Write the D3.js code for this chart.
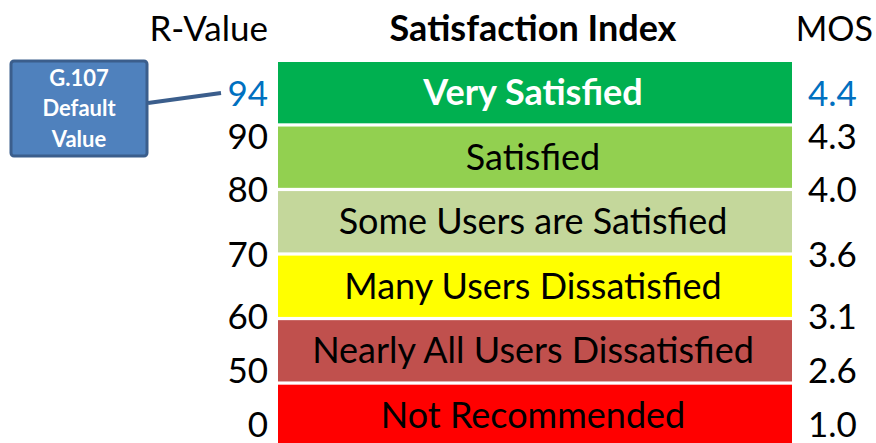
<!DOCTYPE html>
<html>
<head>
<meta charset="utf-8">
<script src="https://cdn.jsdelivr.net/npm/d3@7"></script>
<style>
  body { margin: 0; background: #fff; }
  svg { display: block; font-family: Lato, "Open Sans", sans-serif; }
</style>
</head>
<body>
<svg id="chart" width="876" height="443"></svg>
<script>
// satisfaction bands, best to worst
const categories = ["Very Satisfied", "Satisfied", "Some Users are Satisfied",
  "Many Users Dissatisfied", "Nearly All Users Dissatisfied", "Not Recommended"];
const bandColors = ["#00B050", "#92D050", "#C4D79B", "#FFFF00", "#C0504D", "#FF0000"];

// scale labels on each side
const rValues = ["94", "90", "80", "70", "60", "50", "0"];
const mosValues = ["4.4", "4.3", "4.0", "3.6", "3.1", "2.6", "1.0"];
// where each label sits, in band units from the top
const labelSlots = [0.5, 1.17, 2, 3.03, 4, 4.85, 5.7];

const svg = d3.select("#chart");
const barLeft = 278, barRight = 792, barTop = 62, barBottom = 443;

const y = d3.scaleBand()
  .domain(categories)
  .range([barTop, barBottom + 3])
  .paddingInner(0.05)
  .paddingOuter(0);

const slot = d3.scaleLinear().domain([0, categories.length]).range([barTop, barBottom]);

// headers
const head = svg.append("g").attr("font-size", 35);
head.append("text").attr("x", 268).attr("y", 41).attr("text-anchor", "end").text("R-Value");
head.append("text").attr("x", 533).attr("y", 41).attr("text-anchor", "middle")
  .attr("font-weight", "bold").attr("font-size", 36).text("Satisfaction Index");
head.append("text").attr("x", 873).attr("y", 41).attr("text-anchor", "end")
  .attr("font-size", 34).text("MOS");

// bands
const bands = svg.append("g").selectAll("g")
  .data(categories)
  .join("g");

bands.append("rect")
  .attr("x", barLeft)
  .attr("y", d => y(d))
  .attr("width", barRight - barLeft)
  .attr("height", y.bandwidth())
  .attr("fill", (d, i) => bandColors[i]);

bands.append("text")
  .attr("x", (barLeft + barRight) / 2 - 2)
  .attr("y", d => y(d) + y.bandwidth() / 2)
  .attr("dy", "0.35em")
  .attr("text-anchor", "middle")
  .attr("font-size", 36)
  .attr("font-weight", (d, i) => i === 0 ? "bold" : "normal")
  .attr("fill", (d, i) => i === 0 ? "#fff" : "#000")
  .text(d => d);

// R-value labels
svg.append("g").selectAll("text")
  .data(rValues)
  .join("text")
  .attr("x", 268)
  .attr("y", (d, i) => slot(labelSlots[i]))
  .attr("dy", "0.36em")
  .attr("text-anchor", "end")
  .attr("font-size", 35)
  .attr("fill", (d, i) => i === 0 ? "#0070C0" : "#000")
  .text(d => d);

// MOS labels
svg.append("g").selectAll("text")
  .data(mosValues)
  .join("text")
  .attr("x", 808)
  .attr("y", (d, i) => slot(labelSlots[i]))
  .attr("dy", "0.36em")
  .attr("font-size", 35)
  .attr("fill", (d, i) => i === 0 ? "#0070C0" : "#000")
  .text(d => d);

// G.107 callout
const call = svg.append("g");
call.append("line")
  .attr("x1", 148).attr("y1", 103)
  .attr("x2", 221).attr("y2", 93)
  .attr("stroke", "#3B5E8C")
  .attr("stroke-width", 4);
call.append("rect")
  .attr("x", 11).attr("y", 61)
  .attr("width", 136).attr("height", 95)
  .attr("rx", 3)
  .attr("fill", "#4F81BD")
  .attr("stroke", "#3B5E8C")
  .attr("stroke-width", 3);
call.selectAll("text.callout")
  .data(["G.107", "Default", "Value"])
  .join("text")
  .attr("class", "callout")
  .attr("x", 79)
  .attr("y", (d, i) => 78 + i * 30.5)
  .attr("dy", "0.36em")
  .attr("text-anchor", "middle")
  .attr("font-size", 22)
  .attr("font-weight", "bold")
  .attr("fill", "#fff")
  .text(d => d);
</script>
</body>
</html>
